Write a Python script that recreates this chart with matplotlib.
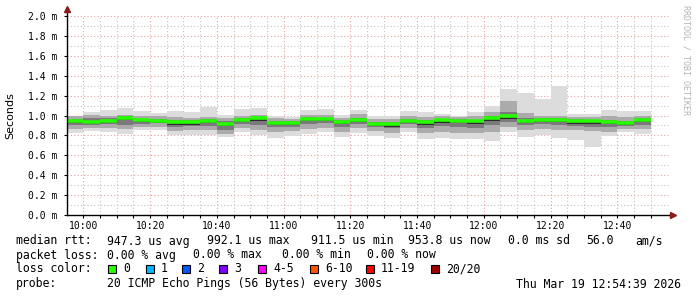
import numpy as np
import matplotlib
matplotlib.use('Agg')
import matplotlib.pyplot as plt
from matplotlib.patches import Rectangle

# 5 minute steps, minutes relative to 10:00 (first step starts 09:55)
step_start = list(range(-5, 170, 5))

# median rtt per step (ms)
med = [0.945, 0.935, 0.948, 0.975, 0.955, 0.948, 0.930, 0.930, 0.945, 0.915,
       0.955, 0.970, 0.925, 0.925, 0.965, 0.965, 0.935, 0.955, 0.915, 0.912,
       0.948, 0.930, 0.950, 0.948, 0.940, 0.970, 0.992, 0.948, 0.955, 0.955,
       0.940, 0.940, 0.935, 0.925, 0.954]
# outer smoke (min / max ping)
lo = [0.82, 0.84, 0.83, 0.815, 0.85, 0.85, 0.80, 0.80, 0.80, 0.78,
      0.835, 0.80, 0.77, 0.79, 0.815, 0.83, 0.78, 0.82, 0.79, 0.77,
      0.83, 0.76, 0.77, 0.76, 0.76, 0.745, 0.83, 0.78, 0.805, 0.77,
      0.755, 0.68, 0.79, 0.83, 0.815]
hi = [1.00, 1.035, 1.055, 1.08, 1.045, 1.03, 1.05, 1.035, 1.09, 1.00,
      1.065, 1.08, 0.99, 0.985, 1.055, 1.065, 1.00, 1.055, 0.995, 0.99,
      1.045, 1.035, 1.02, 1.00, 1.035, 1.095, 1.265, 1.225, 1.165, 1.30,
      1.02, 1.02, 1.055, 1.045, 1.045]
# middle smoke
mlo = [0.86, 0.87, 0.87, 0.86, 0.88, 0.88, 0.84, 0.85, 0.85, 0.81,
       0.87, 0.85, 0.83, 0.84, 0.86, 0.87, 0.83, 0.87, 0.84, 0.82,
       0.87, 0.82, 0.83, 0.82, 0.82, 0.83, 0.88, 0.85, 0.86, 0.85,
       0.85, 0.84, 0.83, 0.86, 0.86]
mhi = [0.99, 1.01, 1.00, 1.01, 1.00, 0.99, 0.98, 0.975, 0.98, 0.97,
       1.00, 1.01, 0.97, 0.965, 1.01, 1.01, 0.975, 1.02, 0.965, 0.96,
       1.00, 0.98, 0.99, 0.985, 0.99, 1.04, 1.15, 1.03, 1.00, 1.00,
       0.98, 0.985, 0.99, 0.98, 1.00]
# dark core
dlo = [0.90, 0.90, 0.91, 0.90, 0.91, 0.92, 0.88, 0.89, 0.89, 0.85,
       0.91, 0.90, 0.88, 0.88, 0.91, 0.92, 0.88, 0.91, 0.88, 0.87,
       0.91, 0.87, 0.89, 0.88, 0.87, 0.90, 0.93, 0.90, 0.91, 0.90,
       0.89, 0.88, 0.88, 0.89, 0.90]
dhi = [0.965, 0.975, 0.97, 0.99, 0.965, 0.96, 0.95, 0.95, 0.96, 0.94,
       0.97, 0.985, 0.945, 0.945, 0.98, 0.975, 0.95, 0.97, 0.935, 0.93,
       0.965, 0.95, 0.965, 0.96, 0.955, 0.99, 1.04, 0.97, 0.975, 0.97,
       0.96, 0.955, 0.955, 0.945, 0.975]

tick_pos = [0, 20, 40, 60, 80, 100, 120, 140, 160]
tick_lab = ['10:00', '10:20', '10:40', '11:00', '11:20', '11:40', '12:00', '12:20', '12:40']
yticks = [0.0, 0.2, 0.4, 0.6, 0.8, 1.0, 1.2, 1.4, 1.6, 1.8, 2.0]

loss_lab = ['0', '1', '2', '3', '4-5', '6-10', '11-19', '20/20']
loss_col = ['#26ff00', '#00b8ff', '#0059ff', '#7e00ff', '#ff00ff', '#ff5500', '#ff0000', '#a10000']

mono = 'DejaVu Sans Mono'
W, H = 697, 297

fig = plt.figure(figsize=(W / 100, H / 100), dpi=100)
fig.patch.set_facecolor('white')
ax = fig.add_axes([67 / W, (H - 215) / H, (669 - 67) / W, (215 - 16) / H])

x = np.array(step_start)
ax.bar(x, np.array(hi) - np.array(lo), bottom=lo, width=5, align='edge', color='#dcdcdc', lw=0, zorder=2)
ax.bar(x, np.array(mhi) - np.array(mlo), bottom=mlo, width=5, align='edge', color='#ababab', lw=0, zorder=3)
ax.bar(x, np.array(dhi) - np.array(dlo), bottom=dlo, width=5, align='edge', color='#7a7a7a', lw=0, zorder=4)
ax.hlines(np.array(med) - 0.014, x, x + 5, color='#2a2a2a', lw=1.4, zorder=5)
ax.hlines(med, x, x + 5, color=loss_col[0], lw=2.6, zorder=6)

ax.set_xlim(-4.9, 175.5)
ax.set_ylim(0, 2.0)

# grid: minor grey, major red
for v in np.arange(0.1, 2.0, 0.2):
    ax.axhline(v, color='#c4c4c4', lw=0.8, ls=(0, (1, 2)), zorder=1)
for v in yticks[1:]:
    ax.axhline(v, color='#e8a0a0', lw=0.8, ls=(0, (1, 2)), zorder=1)
for v in range(5, 175, 5):
    if v % 20 != 0:
        ax.axvline(v, color='#c4c4c4', lw=0.8, ls=(0, (1, 2)), zorder=1)
for v in tick_pos:
    ax.axvline(v, color='#e8a0a0', lw=0.8, ls=(0, (1, 2)), zorder=1)

for s in ax.spines.values():
    s.set_visible(False)
ax.plot([0, 0], [0, 1.035], color='black', lw=1, transform=ax.transAxes, clip_on=False, zorder=7)
ax.plot([0, 1.006], [0, 0], color='black', lw=1, transform=ax.transAxes, clip_on=False, zorder=7)
ax.plot([0], [1.035], marker='^', ms=4, color='#8b1a1a', transform=ax.transAxes, clip_on=False, zorder=8)
ax.plot([1.006], [0], marker='>', ms=4, color='#8b1a1a', transform=ax.transAxes, clip_on=False, zorder=8)

ax.set_yticks(yticks)
ax.set_yticklabels(['%.1f m' % v for v in yticks], fontfamily=mono, fontsize=7)
ax.set_xticks(tick_pos)
ax.set_xticklabels(tick_lab, fontfamily=mono, fontsize=7)
ax.set_xticks(list(range(5, 175, 5)), minor=True)
ax.tick_params(axis='y', length=2, width=0.8, pad=5)
ax.tick_params(axis='x', which='both', length=2, width=0.8, pad=2)
ax.set_ylabel('Seconds', fontsize=8, labelpad=9)

fig.text(686 / W, 1 - 5 / H, 'RRDTOOL / TOBI OETIKER', rotation=270, ha='center', va='top',
         fontfamily=mono, fontsize=6, color='#b4b4b4')


def put(px, py, s, **kw):
    fig.text(px / W, 1 - py / H, s, fontfamily=mono, fontsize=8.3, va='center', **kw)


put(16, 241, 'median rtt:')
put(107, 241, '947.3 us avg')
put(207, 241, '992.1 us max')
put(311, 241, '911.5 us min')
put(408, 241, '953.8 us now')
put(508, 241, '0.0 ms sd')
put(586, 241, '56.0')
put(635, 241, 'am/s')

put(16, 255, 'packet loss:')
put(107, 255, '0.00 % avg')
put(193, 255, '0.00 % max')
put(282, 255, '0.00 % min')
put(367, 255, '0.00 % now')

put(16, 269, 'loss color:')
box_x = [108, 146, 182, 219, 258, 310, 366, 431]
for bx, c, lab in zip(box_x, loss_col, loss_lab):
    fig.patches.append(Rectangle((bx / W, 1 - 272.5 / H), 8 / W, 8 / H, transform=fig.transFigure,
                                 facecolor=c, edgecolor='black', lw=0.8))
    put(bx + 15, 269, lab)

put(16, 284, 'probe:')
put(107, 284, '20 ICMP Echo Pings (56 Bytes) every 300s')
put(681, 284, 'Thu Mar 19 12:54:39 2026', ha='right')

fig.savefig('out.png', dpi=100, facecolor='white')
